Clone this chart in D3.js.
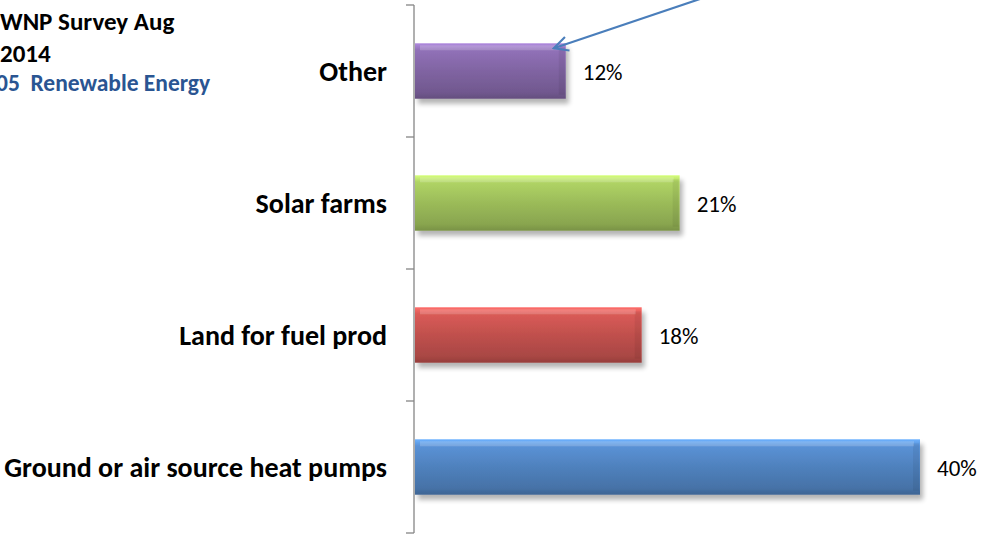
<!DOCTYPE html>
<html>
<head>
<meta charset="utf-8">
<script src="https://cdn.jsdelivr.net/npm/d3@7"></script>
<style>
  html, body { margin: 0; padding: 0; background: #fff; }
  svg { display: block; }
</style>
</head>
<body>
<svg id="chart" width="984" height="535"></svg>
<script>
// Survey responses: preferred renewable energy options
const categories = ["Other", "Solar farms", "Land for fuel prod", "Ground or air source heat pumps"];
const values = [12, 21, 18, 40];
const valueLabels = ["12%", "21%", "18%", "40%"];
const barColors = ["#8064a2", "#9bbb59", "#c0504d", "#4f81bd"];
const titleLines = ["WNP Survey Aug", "2014"];
const subtitle = "05  Renewable Energy";

const W = 984, H = 535;
const axisX = 414;
const svg = d3.select("#chart");
const defs = svg.append("defs");

const fontFamily = "Carlito, Calibri, Lato, 'Open Sans', sans-serif";

// vertical gradients giving each bar its glossy bevelled look
barColors.forEach((c, i) => {
  const base = d3.color(c);
  const g = defs.append("linearGradient")
    .attr("id", "grad" + i).attr("x1", 0).attr("y1", 0).attr("x2", 0).attr("y2", 1);
  g.append("stop").attr("offset", "0%").attr("stop-color", base.brighter(0.9));
  g.append("stop").attr("offset", "12%").attr("stop-color", base.brighter(0.35));
  g.append("stop").attr("offset", "50%").attr("stop-color", base.toString());
  g.append("stop").attr("offset", "88%").attr("stop-color", base.darker(0.35));
  g.append("stop").attr("offset", "100%").attr("stop-color", base.darker(0.7));
});

const shadow = defs.append("filter").attr("id", "shadow")
  .attr("x", "-5%").attr("y", "-20%").attr("width", "115%").attr("height", "160%");
shadow.append("feGaussianBlur").attr("in", "SourceAlpha").attr("stdDeviation", 2.5).attr("result", "b");
shadow.append("feOffset").attr("in", "b").attr("dx", 3).attr("dy", 5).attr("result", "o");
shadow.append("feComponentTransfer").attr("in", "o").attr("result", "s")
  .append("feFuncA").attr("type", "linear").attr("slope", 0.3);
const m = shadow.append("feMerge");
m.append("feMergeNode").attr("in", "s");
m.append("feMergeNode").attr("in", "SourceGraphic");

const y = d3.scaleBand()
  .domain(categories)
  .range([5, 533])
  .paddingInner(0.58)
  .paddingOuter(0.29);

const x = d3.scaleLinear()
  .domain([0, 40])
  .range([axisX, 920]);

// category axis on the left
const yAxis = d3.axisLeft(y).tickSize(0).tickPadding(27);
const gAxis = svg.append("g").attr("transform", `translate(${axisX},0)`).call(yAxis);
gAxis.select(".domain").remove();
gAxis.selectAll("text")
  .attr("font-family", fontFamily)
  .attr("font-weight", "bold")
  .attr("font-size", 28)
  .attr("dy", "0.34em")
  .attr("fill", "#000");

// axis line with boundary ticks between categories
const boundaries = categories.map(c => y(c) - y.step() * y.paddingInner() / 2)
  .concat([y(categories[categories.length - 1]) + y.bandwidth() + y.step() * y.paddingInner() / 2]);
svg.append("line")
  .attr("x1", axisX).attr("x2", axisX)
  .attr("y1", boundaries[0]).attr("y2", boundaries[boundaries.length - 1])
  .attr("stroke", "#868686").attr("stroke-width", 1.3);
svg.selectAll(".btick").data(boundaries).join("line")
  .attr("class", "btick")
  .attr("x1", axisX - 8).attr("x2", axisX)
  .attr("y1", d => d).attr("y2", d => d)
  .attr("stroke", "#868686").attr("stroke-width", 1.3);

// bars
const data = categories.map((c, i) => ({ c, v: values[i], label: valueLabels[i], i }));
const bars = svg.append("g");
bars.selectAll("rect.bar").data(data).join("rect")
  .attr("class", "bar")
  .attr("x", x(0) + 1)
  .attr("y", d => y(d.c))
  .attr("width", d => x(d.v) - x(0) - 1)
  .attr("height", y.bandwidth())
  .attr("fill", d => `url(#grad${d.i})`)
  .attr("filter", "url(#shadow)");

// bevel highlight on top edge and darker side edges
bars.selectAll("rect.hl").data(data).join("rect")
  .attr("class", "hl")
  .attr("x", x(0) + 6)
  .attr("y", d => y(d.c) + 2)
  .attr("width", d => x(d.v) - x(0) - 12)
  .attr("height", 5)
  .attr("fill", "#fff").attr("opacity", 0.18);
bars.selectAll("rect.edge").data(data).join("rect")
  .attr("class", "edge")
  .attr("x", d => x(d.v) - 7)
  .attr("y", d => y(d.c) + 4)
  .attr("width", 6)
  .attr("height", y.bandwidth() - 8)
  .attr("fill", "#000").attr("opacity", 0.06);

// value labels
svg.selectAll("text.val").data(data).join("text")
  .attr("class", "val")
  .attr("x", d => x(d.v) + 17)
  .attr("y", d => y(d.c) + y.bandwidth() / 2)
  .attr("dy", "0.38em")
  .attr("font-family", fontFamily)
  .attr("font-size", 23)
  .attr("fill", "#000")
  .text(d => d.label);

// title block
const title = svg.append("g");
title.selectAll("text.t").data(titleLines).join("text")
  .attr("class", "t")
  .attr("x", 0)
  .attr("y", (d, i) => 30 + i * 32)
  .attr("font-family", fontFamily)
  .attr("font-weight", "bold")
  .attr("font-size", 25)
  .attr("fill", "#000")
  .text(d => d);
title.append("text")
  .attr("x", -4)
  .attr("y", 91)
  .style("white-space", "pre")
  .attr("font-family", fontFamily)
  .attr("font-weight", "bold")
  .attr("font-size", 23.5)
  .attr("fill", "#2a5592")
  .text(subtitle);

// callout arrow pointing at the "Other" bar
const arrowDefs = defs.append("marker").attr("id", "arrow")
  .attr("viewBox", "0 0 12 12").attr("refX", 11).attr("refY", 6)
  .attr("markerWidth", 17).attr("markerHeight", 17)
  .attr("markerUnits", "userSpaceOnUse")
  .attr("orient", "auto");
arrowDefs.append("path").attr("d", "M1,1 L11,6 L1,11")
  .attr("fill", "none").attr("stroke", "#4a7ebb").attr("stroke-width", 1.5);
svg.append("line")
  .attr("x1", 700).attr("y1", -1)
  .attr("x2", x(values[0]) - 12).attr("y2", y(categories[0]) + 5)
  .attr("stroke", "#4a7ebb").attr("stroke-width", 2.2)
  .attr("marker-end", "url(#arrow)");
</script>
</body>
</html>
